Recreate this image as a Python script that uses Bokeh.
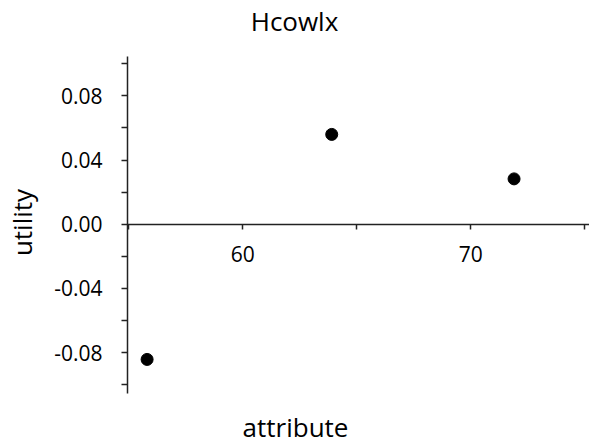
from bokeh.plotting import figure
from bokeh.models import FixedTicker, Range1d
from bokeh.core.properties import value
from bokeh.embed import file_html
from bokeh.resources import INLINE

# data
attribute = [55.8, 63.9, 71.9]
utility = [-0.0842, 0.0560, 0.0283]
x_labelled = [60, 70]
x_ticks = [55, 60, 65, 70, 75]
x_tick_labels = ["60", "70"]
y_major = [-0.08, -0.04, 0.0, 0.04, 0.08]
y_minor = [-0.10, -0.06, -0.02, 0.02, 0.06, 0.10]
y_labels = {-0.08: "-0.08", -0.04: "-0.04", 0.0: "0.00", 0.04: "0.04", 0.08: "0.08"}
y_axis_span = (-0.1054, 0.1045)
title_text = "Hcowlx"
xlabel = "attribute"
ylabel = "utility"

FONT = "Open Sans"
AX = "#222222"

x_range = Range1d(54.94, 75.21)
y_range = Range1d(-0.1372, 0.13944)

p = figure(width=589, height=444, output_backend="svg", toolbar_location=None,
           x_range=x_range, y_range=y_range, min_border=0,
           min_border_left=127, min_border_right=0, min_border_top=0, min_border_bottom=0)
p.outline_line_color = None
p.grid.visible = False
p.background_fill_color = "white"
p.border_fill_color = "white"

p.scatter(attribute, utility, size=12, color="black")

# x tick labels hang below the axis drawn at utility = 0
p.text(x=x_labelled, y=[0] * len(x_labelled), text=x_tick_labels, y_offset=30,
       text_font=value(FONT), text_font_size="21px", text_align="center",
       text_baseline="middle", text_color="black")

# title and x-axis title, anchored to the plot edges
p.text(x=[x_range.start], y=[y_range.end], text=[title_text], x_offset=167, y_offset=20,
       text_font=value(FONT), text_font_size="26px", text_align="center",
       text_baseline="middle", text_color="black")
p.text(x=[x_range.start], y=[y_range.start], text=[xlabel], x_offset=168, y_offset=-18,
       text_font=value(FONT), text_font_size="26px", text_align="center",
       text_baseline="middle", text_color="black")

xa = p.xaxis[0]
xa.fixed_location = 0
xa.ticker = FixedTicker(ticks=[], minor_ticks=x_ticks)
xa.major_tick_in = 0
xa.major_tick_out = 5
xa.minor_tick_in = 0
xa.minor_tick_out = 5
xa.axis_line_width = 1.5
xa.axis_line_color = AX
xa.major_tick_line_color = AX
xa.minor_tick_line_color = AX
xa.major_tick_line_width = 1.5
xa.minor_tick_line_width = 1.5
xa.major_label_standoff = 0
xa.axis_label_standoff = 0

ya = p.yaxis[0]
ya.bounds = y_axis_span
ya.ticker = FixedTicker(ticks=y_major, minor_ticks=y_minor)
ya.major_label_overrides = y_labels
ya.major_tick_in = 0
ya.major_tick_out = 6
ya.minor_tick_in = 0
ya.minor_tick_out = 6
ya.axis_line_width = 1.5
ya.axis_line_color = AX
ya.major_tick_line_color = AX
ya.minor_tick_line_color = AX
ya.major_tick_line_width = 1.5
ya.minor_tick_line_width = 1.5
ya.major_label_text_font = FONT
ya.major_label_text_font_size = "21px"
ya.major_label_text_color = "black"
ya.major_label_standoff = 19
ya.axis_label = ylabel
ya.axis_label_text_font = FONT
ya.axis_label_text_font_size = "26px"
ya.axis_label_text_font_style = "normal"
ya.axis_label_text_color = "black"
ya.axis_label_standoff = 11

open("out.html", "w").write(file_html(p, INLINE))
